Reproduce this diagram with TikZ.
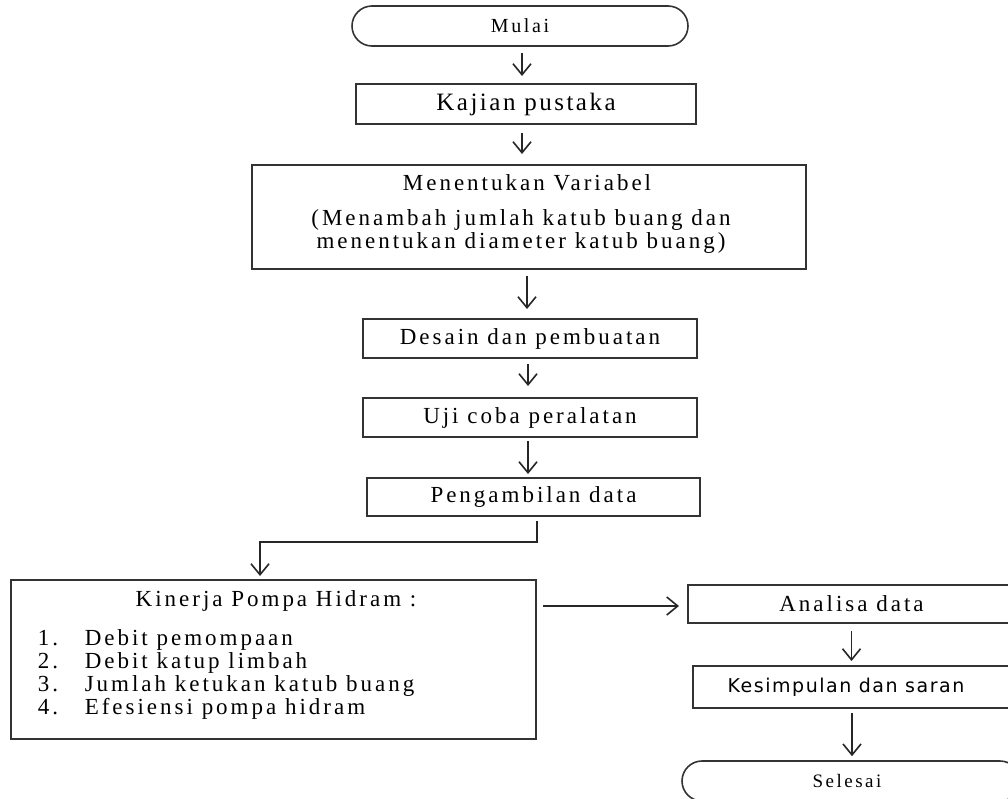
\documentclass[tikz,border=0pt]{standalone}
\usepackage{fontspec}
\setmainfont{Liberation Serif}
\newfontfamily\isifont{Liberation Serif}[LetterSpace=13]
\newfontfamily\judulfont{Liberation Serif}[LetterSpace=10]
\newfontfamily\sansisi{DejaVu Sans}[LetterSpace=8]
\usetikzlibrary{arrows.meta, positioning, calc}

\begin{document}
\begin{tikzpicture}[
    x=1pt, y=-1pt,
    >={Straight Barb[length=11pt,width=18pt]},
    line width=1.6pt,
    every node/.style={font=\isifont\fontsize{23}{21}\selectfont, inner sep=0pt},  % Ukuran huruf isi
    kotak/.style={draw=black!80, line width=2pt, rectangle},
    terminal/.style={draw=black!80, line width=1.6pt, rounded corners=20pt},
    panah/.style={->, draw=black!85, line width=1.6pt}
]

% Batas gambar
\path[use as bounding box] (0,0) rectangle (1008,798);
\clip (0,0) rectangle (1008,798);

% Mulai dan kajian
\node[terminal, minimum width=336pt, minimum height=40pt, font=\isifont\fontsize{20}{22}\selectfont] (mulai) at (520,26) {Mulai};
\node[kotak, minimum width=340pt, minimum height=40pt, font=\judulfont\fontsize{25}{28}\selectfont] (kajian) at (526,104) {Kajian pustaka};

% Menentukan variabel (tiga baris)
\node[kotak, minimum width=554pt, minimum height=104pt] (variabel) at (529,217) {};
\node[anchor=base] (variabel1) at (527,190) {Menentukan Variabel};
\node[anchor=base] (variabel2) at (521,225) {(Menambah jumlah katub buang dan};
\node[anchor=base] (variabel3) at (521,248) {menentukan diameter katub buang)};

% Tahap pembuatan dan pengujian
\node[kotak, minimum width=334pt, minimum height=39pt] (desain) at (530,338.5) {Desain dan pembuatan};
\node[kotak, minimum width=334pt, minimum height=39pt] (uji) at (530,417.5) {Uji coba peralatan};
\node[kotak, minimum width=333pt, minimum height=38pt] (ambil) at (533.5,497) {Pengambilan data};

% Kinerja pompa hidram
\node[kotak, minimum width=525pt, minimum height=159pt] (kinerja) at (273.5,659.5) {};
\node[anchor=base] (kinerjajudul) at (276,606) {Kinerja Pompa Hidram :};
\node[anchor=base west] (no1) at (37,645) {1.};
\node[anchor=base west] (no2) at (37,668) {2.};
\node[anchor=base west] (no3) at (37,691) {3.};
\node[anchor=base west] (no4) at (37,714) {4.};
\node[anchor=base west] (isi1) at (84,645) {Debit pemompaan};
\node[anchor=base west] (isi2) at (84,668) {Debit katup limbah};
\node[anchor=base west] (isi3) at (84,691) {Jumlah ketukan katub buang};
\node[anchor=base west] (isi4) at (84,714) {Efesiensi pompa hidram};

% Analisa sampai selesai
\node[kotak, minimum width=327pt, minimum height=38pt] (analisa) at (851.5,604) {Analisa data};
\node[kotak, minimum width=319pt, minimum height=42pt, font=\sansisi\fontsize{19}{22}\selectfont] (simpulan) at (852.5,687) {\hspace{-13pt}Kesimpulan dan saran};
\node[terminal, minimum width=338pt, minimum height=40pt, font=\isifont\fontsize{19}{21}\selectfont] (selesai) at (851,781) {\hspace{-8pt}Selesai};

% Panah
\draw[panah, shorten <=6pt, shorten >=7pt] ([xshift=2pt]mulai.south) -- ([xshift=2pt]mulai.south |- kajian.north);
\draw[panah, shorten <=8pt, shorten >=10pt] ([xshift=-4pt]kajian.south) -- ([xshift=-4pt]kajian.south |- variabel.north);
\draw[panah, shorten <=6pt, shorten >=9pt] ([xshift=-2pt]variabel.south) -- ([xshift=-2pt]variabel.south |- desain.north);
\draw[panah, shorten <=5pt, shorten >=11pt] ([xshift=-2pt]desain.south) -- ([xshift=-2pt]desain.south |- uji.north);
\draw[panah, shorten <=3pt, shorten >=3pt] ([xshift=-2pt]uji.south) -- ([xshift=-2pt]uji.south |- ambil.north);
\draw[panah, shorten <=4pt, shorten >=3pt] (kinerja.north east |- ambil.south) -- ++(0,25) -| ([xshift=-13.5pt]kinerja.north);
\draw[panah, shorten <=6pt, shorten >=8pt] ([yshift=-2pt]analisa.west -| kinerja.east) -- ([yshift=-2pt]analisa.west);
\draw[panah, shorten <=7pt, shorten >=4pt] (analisa.south) -- (analisa.south |- simpulan.north);
\draw[panah, shorten <=4pt, shorten >=4pt] ([xshift=-0.5pt]simpulan.south) -- ([xshift=-0.5pt]simpulan.south |- selesai.north);

\end{tikzpicture}
\end{document}
